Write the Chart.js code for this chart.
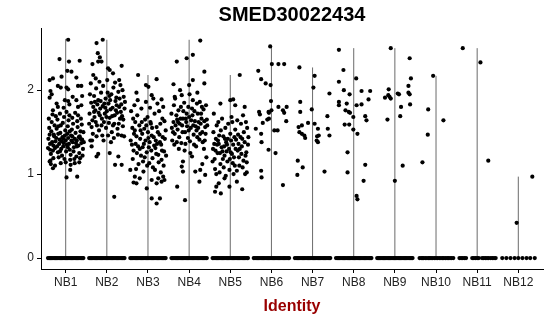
<!DOCTYPE html>
<html>
<head>
<meta charset="utf-8">
<script src="https://cdn.jsdelivr.net/npm/chart.js@4"></script>
<style>
  html, body { margin: 0; padding: 0; background: #fff; }
  #wrap { width: 550px; height: 316px; }
</style>
</head>
<body>
<div id="wrap"><canvas id="vln"></canvas></div>
<script>
// SMED30022434 - expresión por identidad (violín + jitter)
const categories = ['NB1', 'NB2', 'NB3', 'NB4', 'NB5', 'NB6', 'NB7', 'NB8', 'NB9', 'NB10', 'NB11', 'NB12'];
const violinMax = [2.61, 2.60, 2.18, 2.60, 2.18, 2.52, 2.27, 2.50, 2.50, 2.17, 2.50, 0.97];
const yTicks = [0, 1, 2];

// puntos no nulos: [desplazamiento jitter, valor]
const nb1 = [
  [0.06,2.60],[-0.15,2.37],[0.08,2.34],[0.34,2.35],[-0.31,2.14],[-0.10,2.16],[-0.39,2.12],[0.04,2.23],[0.14,2.22],[0.26,2.15],
  [-0.37,1.99],[-0.19,2.05],[-0.12,2.03],[0.02,2.03],[0.06,2.01],[0.30,2.05],[0.38,2.05],[-0.39,1.91],[-0.02,1.88],[0.06,1.87],
  [0.26,1.88],[0.38,1.82],[-0.31,1.76],[-0.19,1.80],[-0.39,1.15],[-0.31,1.07],[0.11,1.05],[0.02,0.96],[0.28,0.97],
  [-0.22,1.84],[0.17,1.92],[-0.05,1.79],[0.30,1.80],[-0.34,1.95],[0.09,1.83],[0.40,1.93],
  [-0.42,1.42],[-0.38,1.36],[-0.35,1.51],[-0.31,1.28],[-0.28,1.45],[-0.25,1.39],[-0.21,1.33],[-0.18,1.48],[-0.15,1.41],[-0.11,1.30],
  [-0.08,1.44],[-0.05,1.37],[-0.01,1.52],[0.03,1.35],[0.06,1.43],[0.10,1.29],[0.13,1.46],[0.17,1.38],[0.20,1.32],[0.24,1.49],
  [0.27,1.40],[0.31,1.34],[0.34,1.45],[0.38,1.37],[0.42,1.30],[-0.40,1.55],[-0.36,1.24],[-0.33,1.38],[-0.29,1.47],[-0.26,1.31],
  [-0.22,1.54],[-0.19,1.26],[-0.16,1.36],[-0.12,1.58],[-0.09,1.22],[-0.06,1.33],[-0.02,1.46],[0.01,1.27],[0.05,1.57],[0.08,1.36],
  [0.12,1.23],[0.15,1.53],[0.19,1.27],[0.22,1.42],[0.26,1.21],[0.29,1.56],[0.33,1.25],[0.36,1.51],[0.40,1.41],[0.43,1.50],
  [-0.43,1.31],[-0.39,1.47],[-0.34,1.62],[-0.30,1.19],[-0.27,1.58],[-0.23,1.43],[-0.20,1.65],[-0.17,1.20],[-0.13,1.49],[-0.10,1.39],
  [-0.07,1.61],[-0.03,1.18],[0.00,1.40],[0.04,1.48],[0.07,1.64],[0.11,1.17],[0.14,1.40],[0.18,1.60],[0.21,1.18],[0.25,1.37],
  [0.28,1.63],[0.32,1.44],[0.35,1.19],[0.39,1.59],[0.44,1.38],[-0.41,1.66],[-0.37,1.16],[-0.32,1.71],[-0.24,1.69],[-0.14,1.72],
  [-0.04,1.68],[0.02,1.74],[0.09,1.70],[0.16,1.67],[0.23,1.73],[0.30,1.70],[0.37,1.66],[0.41,1.22],[-0.36,1.12],[-0.26,1.10],
  [-0.12,1.13],[0.00,1.14],[0.12,1.11],[0.22,1.13],[0.33,1.14],[-0.30,1.34],[-0.14,1.27],[-0.06,1.42],[0.05,1.32],[0.16,1.45],
  [0.27,1.33],[0.36,1.42],[-0.18,1.57],[0.10,1.51],[-0.38,1.29]
];
const nb2 = [
  [-0.10,2.60],[-0.25,2.56],[-0.22,2.44],[-0.17,2.39],[-0.35,2.31],[-0.21,2.34],[-0.13,2.34],[0.36,2.29],[0.03,2.26],[0.07,2.24],
  [-0.33,2.18],[-0.27,2.14],[0.15,2.20],[0.30,2.12],[-0.25,1.21],[-0.21,1.24],[-0.37,1.33],[0.20,1.11],[0.36,1.11],[0.07,1.25],
  [0.18,0.73],[0.28,1.21],
  [-0.42,1.72],[-0.38,1.85],[-0.35,1.64],[-0.31,1.93],[-0.28,1.76],[-0.24,1.58],[-0.21,1.88],[-0.17,1.70],[-0.14,1.97],[-0.10,1.81],
  [-0.07,1.62],[-0.03,1.90],[0.00,1.75],[0.04,1.84],[0.07,1.67],[0.11,1.95],[0.14,1.79],[0.18,1.60],[0.21,1.87],[0.25,1.73],
  [0.28,1.98],[0.32,1.66],[0.35,1.83],[0.39,1.57],[0.43,1.78],[-0.41,1.95],[-0.37,1.56],[-0.33,1.80],[-0.30,1.68],[-0.26,2.02],
  [-0.23,1.83],[-0.19,1.52],[-0.16,1.78],[-0.12,1.66],[-0.09,2.05],[-0.05,1.72],[-0.02,1.55],[0.02,1.97],[0.05,1.61],[0.09,1.77],
  [0.12,1.50],[0.16,2.03],[0.19,1.70],[0.23,1.91],[0.26,1.54],[0.30,1.80],[0.33,2.06],[0.37,1.69],[0.41,1.92],[-0.43,1.60],
  [-0.39,2.08],[-0.34,1.48],[-0.29,1.86],[-0.25,1.45],[-0.20,1.73],[-0.15,1.87],[-0.11,1.46],[-0.06,1.84],[-0.01,1.68],[0.03,1.46],
  [0.08,1.88],[0.13,1.69],[0.17,1.43],[0.22,1.76],[0.27,1.47],[0.31,1.90],[0.36,1.46],[0.40,1.65],[0.44,1.86],[-0.36,1.40],
  [-0.27,1.62],[-0.18,2.10],[-0.08,1.40],[0.01,2.12],[0.10,1.38],[0.20,2.09],[0.29,1.60],[0.38,2.00],[-0.40,1.40],[0.42,1.45],
  [-0.13,1.58],[0.06,1.93],[0.24,1.82],[-0.31,1.74],[0.15,1.58],[-0.04,1.79],[0.34,1.74]
];
const nb3 = [
  [-0.24,2.18],[0.21,2.13],[-0.05,2.06],[0.01,2.04],[-0.28,1.97],[0.09,1.94],[0.33,1.89],[-0.28,0.89],[-0.03,0.83],[0.09,0.71],
  [0.21,0.65],[0.29,0.71],[-0.32,0.97],[0.37,0.97],[0.33,0.91],[0.09,0.93],[0.21,0.89],[-0.35,0.90],[0.25,0.95],[0.40,0.93],
  [-0.20,0.95],
  [-0.42,1.40],[-0.38,1.55],[-0.35,1.28],[-0.31,1.62],[-0.28,1.45],[-0.24,1.33],[-0.21,1.58],[-0.17,1.22],[-0.14,1.48],[-0.10,1.36],
  [-0.07,1.65],[-0.03,1.26],[0.00,1.50],[0.04,1.38],[0.07,1.60],[0.11,1.19],[0.14,1.44],[0.18,1.31],[0.21,1.56],[0.25,1.23],
  [0.28,1.47],[0.32,1.35],[0.35,1.66],[0.39,1.27],[0.43,1.52],[-0.41,1.75],[-0.37,1.18],[-0.33,1.82],[-0.30,1.36],[-0.26,1.70],
  [-0.23,1.12],[-0.19,1.42],[-0.16,1.78],[-0.12,1.15],[-0.09,1.54],[-0.05,1.86],[-0.02,1.10],[0.02,1.32],[0.05,1.79],[0.09,1.46],
  [0.12,1.08],[0.16,1.72],[0.19,1.40],[0.23,1.84],[0.26,1.14],[0.30,1.60],[0.33,1.17],[0.37,1.80],[0.41,1.42],[-0.43,1.05],
  [-0.39,1.35],[-0.34,1.48],[-0.29,1.06],[-0.25,1.88],[-0.20,1.30],[-0.15,1.62],[-0.11,1.03],[-0.06,1.40],[-0.01,1.68],[0.03,1.13],
  [0.08,1.28],[0.13,1.90],[0.17,1.05],[0.22,1.36],[0.27,1.75],[0.31,1.02],[0.36,1.44],[0.40,1.63],[0.44,1.22],[-0.36,1.66],
  [-0.27,1.25],[-0.18,1.52],[-0.08,1.20],[0.01,1.43],[0.10,1.55],[0.20,1.24],[0.29,1.38],[0.38,1.10],[-0.13,1.32],[0.06,1.62],
  [0.24,1.50],[-0.32,1.52],[0.15,1.34],[-0.04,1.58],[0.34,1.28]
];
const nb4 = [
  [0.27,2.59],[-0.30,2.34],[0.09,2.42],[-0.06,2.38],[0.37,2.22],[0.09,2.12],[-0.38,2.07],[0.37,2.08],[0.00,2.06],[-0.15,1.15],
  [-0.18,1.09],[0.07,1.21],[0.15,1.03],[0.27,1.05],[0.39,0.99],[0.25,0.91],[-0.29,0.85],[-0.15,1.03],[-0.10,0.69],[0.32,1.12],
  [-0.35,1.92],[0.20,1.97],[-0.22,2.00],[0.42,1.20],
  [-0.42,1.55],[-0.38,1.62],[-0.35,1.48],[-0.31,1.70],[-0.28,1.53],[-0.24,1.44],[-0.21,1.66],[-0.17,1.58],[-0.14,1.75],[-0.10,1.50],
  [-0.07,1.62],[-0.03,1.43],[0.00,1.68],[0.04,1.55],[0.07,1.78],[0.11,1.47],[0.14,1.63],[0.18,1.52],[0.21,1.72],[0.25,1.41],
  [0.28,1.60],[0.32,1.50],[0.35,1.77],[0.39,1.56],[0.43,1.65],[-0.41,1.40],[-0.37,1.82],[-0.33,1.58],[-0.30,1.38],[-0.26,1.76],
  [-0.23,1.60],[-0.19,1.37],[-0.16,1.50],[-0.12,1.85],[-0.09,1.36],[-0.05,1.57],[-0.02,1.80],[0.02,1.39],[0.05,1.64],[0.09,1.88],
  [0.12,1.35],[0.16,1.57],[0.19,1.84],[0.23,1.62],[0.26,1.86],[0.30,1.66],[0.33,1.38],[0.37,1.63],[0.41,1.82],[-0.43,1.72],
  [-0.39,1.50],[-0.34,1.90],[-0.29,1.65],[-0.25,1.30],[-0.20,1.80],[-0.15,1.66],[-0.11,1.28],[-0.06,1.72],[-0.01,1.52],[0.03,1.25],
  [0.08,1.70],[0.13,1.75],[0.17,1.33],[0.22,1.55],[0.27,1.48],[0.31,1.80],[0.36,1.30],[0.40,1.48],[0.44,1.58],[-0.36,1.35],
  [-0.27,1.62],[-0.18,1.94],[-0.08,1.66],[0.01,1.95],[0.10,1.58],[0.20,1.44],[0.29,1.72],[0.38,1.40]
];
const nb5 = [
  [0.23,2.18],[0.00,1.88],[0.07,1.89],[-0.24,1.84],[-0.34,0.85],[-0.23,0.77],[-0.02,0.85],[0.29,0.82],[0.16,0.91],[-0.28,0.89],
  [-0.37,0.79],[0.35,1.80],[-0.40,1.72],[0.12,1.82],[0.40,1.02],[-0.14,0.95],
  [-0.42,1.30],[-0.38,1.18],[-0.35,1.42],[-0.31,1.25],[-0.28,1.36],[-0.24,1.12],[-0.21,1.32],[-0.17,1.45],[-0.14,1.22],[-0.10,1.38],
  [-0.07,1.15],[-0.03,1.30],[0.00,1.48],[0.04,1.24],[0.07,1.35],[0.11,1.10],[0.14,1.41],[0.18,1.28],[0.21,1.20],[0.25,1.44],
  [0.28,1.33],[0.32,1.16],[0.35,1.38],[0.39,1.26],[0.43,1.35],[-0.41,1.50],[-0.37,1.06],[-0.33,1.58],[-0.30,1.40],[-0.26,1.02],
  [-0.23,1.52],[-0.19,1.27],[-0.16,1.08],[-0.12,1.55],[-0.09,1.27],[-0.05,1.60],[-0.02,1.05],[0.02,1.40],[0.05,1.62],[0.09,1.20],
  [0.12,1.53],[0.16,1.04],[0.19,1.47],[0.23,1.30],[0.26,1.60],[0.30,1.08],[0.33,1.50],[0.37,1.22],[0.41,1.55],[-0.43,1.15],
  [-0.39,1.36],[-0.34,1.00],[-0.29,1.62],[-0.25,1.25],[-0.20,1.66],[-0.15,1.33],[-0.11,0.98],[-0.06,1.42],[-0.01,1.18],[0.03,1.68],
  [0.08,1.00],[0.13,1.30],[0.17,1.64],[0.22,1.10],[0.27,1.24],[0.31,1.70],[0.36,1.00],[0.40,1.14],[0.44,1.44],[-0.36,1.28],
  [-0.27,1.46],[-0.18,1.18],[-0.08,1.35],[0.01,1.26],[0.10,1.44],[0.20,1.36],[0.29,1.42],[0.38,1.62],[-0.13,1.42],[0.06,1.13],
  [-0.32,1.35]
];
const nb6 = [
  [-0.03,2.52],[0.01,2.31],[0.17,2.31],[0.31,2.31],[-0.32,2.23],[-0.25,2.13],[-0.14,2.08],[-0.02,2.06],[-0.01,1.87],[-0.30,1.74],
  [-0.28,1.71],[-0.07,1.74],[-0.06,1.73],[0.00,1.76],[0.17,1.80],[0.28,1.76],[0.31,1.73],[0.37,1.80],[-0.10,1.65],[-0.06,1.66],
  [-0.21,1.61],[0.36,1.63],[-0.38,1.54],[0.07,1.52],[0.15,1.52],[-0.25,1.48],[-0.24,1.38],[-0.07,1.29],[0.10,1.25],[-0.25,1.04],
  [-0.24,0.96],[0.28,0.87]
];
const nb7 = [
  [-0.32,2.27],[0.05,2.17],[0.02,2.03],[0.41,1.96],[-0.30,1.86],[-0.30,1.74],[-0.02,1.77],[0.36,1.69],[-0.11,1.61],[-0.26,1.58],
  [-0.34,1.56],[0.05,1.60],[0.13,1.54],[0.37,1.54],[-0.32,1.50],[-0.26,1.48],[-0.20,1.46],[0.15,1.46],[0.11,1.45],[0.41,1.46],
  [-0.18,1.43],[0.10,1.40],[0.13,1.38],[-0.36,1.16],[-0.24,1.08],[-0.37,0.99],[0.29,1.03]
];
const nb8 = [
  [-0.36,2.48],[-0.25,2.24],[0.06,2.14],[-0.36,2.10],[-0.24,2.00],[-0.10,1.95],[0.19,1.99],[0.40,1.99],[0.36,1.89],[-0.36,1.86],
  [-0.36,1.82],[-0.17,1.84],[0.07,1.82],[0.19,1.83],[-0.20,1.76],[-0.12,1.74],[-0.09,1.73],[-0.01,1.68],[0.28,1.69],[0.31,1.64],
  [-0.22,1.59],[-0.11,1.59],[-0.01,1.53],[0.09,1.48],[-0.15,1.26],[0.28,1.11],[-0.15,1.02],[0.24,0.92],[0.07,0.74],[0.09,0.70]
];
const nb9 = [
  [-0.10,2.50],[0.36,2.38],[0.39,2.14],[0.33,2.05],[-0.15,2.01],[-0.24,1.91],[-0.16,1.94],[-0.13,1.92],[-0.10,1.90],[0.07,1.96],
  [0.10,1.95],[0.33,1.97],[0.36,1.95],[0.15,1.80],[0.37,1.83],[0.13,1.69],[-0.18,1.65],[0.19,1.10],[0.00,0.92]
];
const nb10 = [[-0.07,2.17],[-0.19,1.77],[0.18,1.64],[-0.20,1.47],[-0.33,1.14]];
const nb11 = [[-0.35,2.50],[0.08,2.33],[0.27,1.16]];
const nb12 = [[-0.04,0.42],[0.34,0.97]];

// células con valor 0 (desplazamiento jitter)
const zeroDense = [-0.43,-0.40,-0.37,-0.34,-0.31,-0.28,-0.25,-0.22,-0.19,-0.16,-0.13,-0.10,-0.07,-0.04,-0.01,
  0.02,0.05,0.08,0.11,0.14,0.17,0.20,0.23,0.26,0.29,0.32,0.35,0.38,0.41,0.43];
const zeroNB10 = [-0.40,-0.36,-0.33,-0.30,-0.26,-0.22,-0.18,-0.15,-0.12,-0.08,-0.04,0.00,0.04,0.08,0.12,0.16,0.19,0.23,0.27,0.30,0.34,0.38,0.42];
const zeroNB11 = [-0.43,-0.39,-0.35,-0.31,-0.27,-0.12,-0.08,-0.04,0.00,0.04,0.12,0.16,0.20,0.24,0.28,0.33,0.37,0.41,0.45];
const zeroNB12 = [-0.39,-0.29,-0.19,-0.09,0.00,0.10,0.20,0.29,0.40];

const groups = [nb1, nb2, nb3, nb4, nb5, nb6, nb7, nb8, nb9, nb10, nb11, nb12];
const zeros = [zeroDense, zeroDense, zeroDense, zeroDense, zeroDense, zeroDense, zeroDense, zeroDense, zeroDense, zeroNB10, zeroNB11, zeroNB12];

const points = [];
groups.forEach((g, i) => {
  zeros[i].forEach(o => points.push({ x: i + 1 + o, y: 0 }));
  g.forEach(p => points.push({ x: i + 1 + p[0], y: p[1] }));
});

const datasets = [{
  type: 'scatter',
  data: points,
  backgroundColor: '#000',
  borderWidth: 0,
  pointRadius: 2.1,
  order: 0
}];
violinMax.forEach((m, i) => {
  datasets.push({
    type: 'line',
    data: [{ x: i + 1, y: 0 }, { x: i + 1, y: m }],
    borderColor: '#6b6b6b',
    borderWidth: 1,
    pointRadius: 0,
    order: 1
  });
});

new Chart(document.getElementById('vln'), {
  type: 'scatter',
  data: { datasets },
  options: {
    responsive: true,
    maintainAspectRatio: false,
    animation: false,
    layout: { padding: { left: 0, right: 7, top: 0, bottom: 0 } },
    plugins: {
      legend: { display: false },
      tooltip: { enabled: false },
      title: {
        display: true,
        fullSize: false,
        text: 'SMED30022434',
        color: '#000',
        font: { family: 'Liberation Sans', size: 20, weight: 'bold' },
        padding: { top: 3, bottom: 1 }
      }
    },
    scales: {
      x: {
        type: 'linear',
        min: 0.4,
        max: 12.6,
        afterBuildTicks: s => { s.ticks = categories.map((c, i) => ({ value: i + 1 })); },
        afterFit: s => { s.height = 47; },
        ticks: {
          autoSkip: false,
          maxRotation: 0,
          color: '#222',
          padding: 2,
          font: { family: 'Liberation Sans', size: 12 },
          callback: v => categories[v - 1]
        },
        grid: { drawOnChartArea: false, drawTicks: true, tickLength: 4, color: '#000' },
        border: { display: true, color: '#000', width: 1 },
        title: {
          display: true,
          text: 'Identity',
          color: '#990000',
          font: { family: 'Liberation Sans', size: 16, weight: 'bold' },
          padding: { top: 2, bottom: 0 }
        }
      },
      y: {
        min: -0.13,
        max: 2.74,
        afterBuildTicks: s => { s.ticks = yTicks.map(v => ({ value: v })); },
        afterFit: s => { s.width = 41; },
        ticks: {
          color: '#222',
          padding: 3,
          font: { family: 'Liberation Sans', size: 12 }
        },
        grid: { drawOnChartArea: false, drawTicks: true, tickLength: 4, color: '#000' },
        border: { display: true, color: '#000', width: 1 }
      }
    }
  }
});
</script>
</body>
</html>
